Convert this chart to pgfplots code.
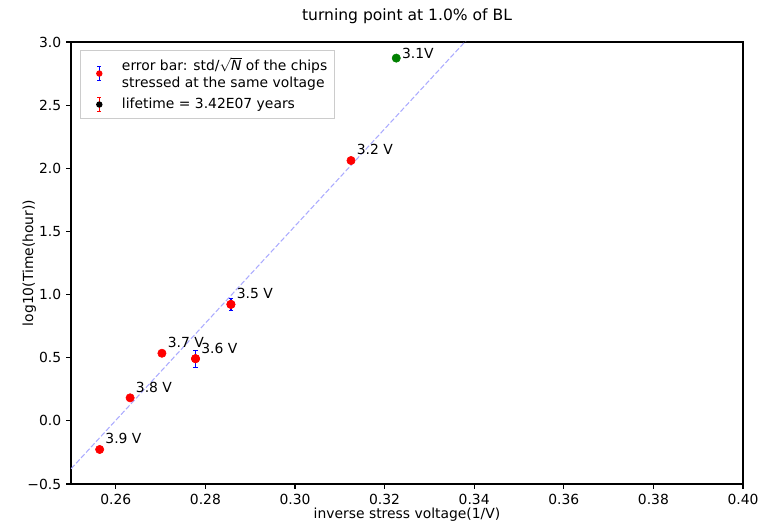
\documentclass[border=0pt]{standalone}
\usepackage{fontspec}
\setmainfont{DejaVu Sans}
\usepackage{pgfplots}
\pgfplotsset{compat=1.18}
\definecolor{fitline}{RGB}{170,170,255}
\definecolor{mplgreen}{RGB}{0,128,0}
\definecolor{legframe}{RGB}{204,204,204}

% legend-only marks: dot with a capped vertical error bar
\newcommand\errdot[6]{% name, bar colour, dot colour, bar bottom, centre, bar top
\pgfdeclareplotmark{#1}{%
  \pgfpathrectangle{\pgfqpoint{-10.7pt}{0pt}}{\pgfqpoint{25pt}{0.1pt}}\pgfusepath{discard}%
  \pgfsetlinewidth{0.8pt}\pgfsetcolor{#2}%
  \pgfpathmoveto{\pgfqpoint{0pt}{#4}}\pgfpathlineto{\pgfqpoint{0pt}{#6}}%
  \pgfpathmoveto{\pgfqpoint{-1.5pt}{#4}}\pgfpathlineto{\pgfqpoint{1.5pt}{#4}}%
  \pgfpathmoveto{\pgfqpoint{-1.5pt}{#6}}\pgfpathlineto{\pgfqpoint{1.5pt}{#6}}%
  \pgfusepathqstroke
  \pgfsetcolor{#3}%
  \pgfpathcircle{\pgfqpoint{0pt}{#5}}{2.3pt}\pgfusepathqfill}}
\errdot{errdotA}{blue}{red}{-4.8pt}{0pt}{4.8pt}
\errdot{errdotB}{red}{black}{-4.8pt}{0pt}{4.8pt}

\pgfplotstableread{
x y e
0.2778 0.492 0.067
0.2857 0.922 0.049
}\errpts
\pgfplotstableread{
x y
0.2564 -0.227
0.2632 0.182
0.2703 0.535
0.3125 2.061
}\plainpts

\begin{document}
\begin{tikzpicture}
\begin{axis}[
  name=ax,
  scale only axis,
  width=483.8pt, height=318.2pt,
  xmin=0.25, xmax=0.40, ymin=-0.5, ymax=3.0,
  xtick={0.26,0.28,0.30,0.32,0.34,0.36,0.38,0.40},
  xticklabels={0.26,0.28,0.30,0.32,0.34,0.36,0.38,0.40},
  ytick={-0.5,0,0.5,1,1.5,2,2.5,3},
  yticklabels={−0.5,0.0,0.5,1.0,1.5,2.0,2.5,3.0},
  tick align=outside, tick pos=left,
  major tick length=3.5pt,
  ticklabel style={font=\fontsize{10}{12}\selectfont},
  label style={font=\fontsize{10}{12}\selectfont},
  axis line style={line width=0.8pt},
  every tick/.style={black, line width=0.8pt},
  xlabel={inverse stress voltage(1/V)},
  ylabel={log10(Time(hour))},
  xlabel style={yshift=4.3pt},
  ylabel style={yshift=-13pt},
  title={turning point at 1.0\% of BL},
  title style={font=\fontsize{11.2}{13}\selectfont, yshift=3.5pt},
  legend style={at={(0,1)}, anchor=north west, xshift=6.5pt, yshift=-5.8pt,
    draw=legframe, font=\fontsize{10}{12.5}\selectfont,
    row sep=2pt, inner xsep=3pt, inner ysep=3pt},
  legend cell align=left,
]
\addlegendimage{only marks, mark=errdotA}
\addlegendentry{\begin{tabular}[b]{@{}l@{}}error bar: std/$\sqrt{\mbox{\itshape N}}$ of the chips\\stressed at the same voltage\end{tabular}}
\addlegendimage{only marks, mark=errdotB}
\addlegendentry{lifetime = 3.42E07 years}

\addplot[fitline, line width=0.75pt, dash pattern=on 3.7pt off 1.6pt, forget plot]
  coordinates {(0.24,-0.765) (0.35,3.465)};

\addplot[only marks, mark=*, mark size=3pt, red, forget plot,
  error bars/.cd, y dir=both, y explicit,
  error bar style={blue, line width=0.9pt},
  error mark options={blue, line width=0.9pt, mark size=1.5pt, rotate=90}]
  table[x=x, y=y, y error=e] {\errpts};
\addplot[only marks, mark=*, mark size=3pt, red, forget plot]
  table[x=x, y=y] {\errpts};
\addplot[only marks, mark=*, mark size=3pt, red, forget plot]
  table[x=x, y=y] {\plainpts};
\addplot[only marks, mark=*, mark size=3pt, mplgreen, forget plot]
  coordinates {(0.3226, 2.872)};

\node[anchor=base west, font=\fontsize{10}{12}\selectfont, inner sep=0pt, xshift=4pt, yshift=4pt] at (axis cs:0.2564,-0.227) {3.9 V};
\node[anchor=base west, font=\fontsize{10}{12}\selectfont, inner sep=0pt, xshift=4pt, yshift=4pt] at (axis cs:0.2632,0.182) {3.8 V};
\node[anchor=base west, font=\fontsize{10}{12}\selectfont, inner sep=0pt, xshift=4pt, yshift=4pt] at (axis cs:0.2703,0.535) {3.7 V};
\node[anchor=base west, font=\fontsize{10}{12}\selectfont, inner sep=0pt, xshift=4pt, yshift=4pt] at (axis cs:0.2778,0.492) {3.6 V};
\node[anchor=base west, font=\fontsize{10}{12}\selectfont, inner sep=0pt, xshift=4pt, yshift=4pt] at (axis cs:0.2857,0.922) {3.5 V};
\node[anchor=base west, font=\fontsize{10}{12}\selectfont, inner sep=0pt, xshift=4pt, yshift=4pt] at (axis cs:0.3125,2.061) {3.2 V};
\node[anchor=base west, font=\fontsize{10}{12}\selectfont, inner sep=0pt, xshift=4pt, yshift=0pt] at (axis cs:0.3226,2.872) {3.1V};
\end{axis}
\path ([xshift=-51.1pt,yshift=-27.4pt]ax.south west) rectangle ([xshift=18.7pt,yshift=30.2pt]ax.north east);
\end{tikzpicture}
\end{document}
